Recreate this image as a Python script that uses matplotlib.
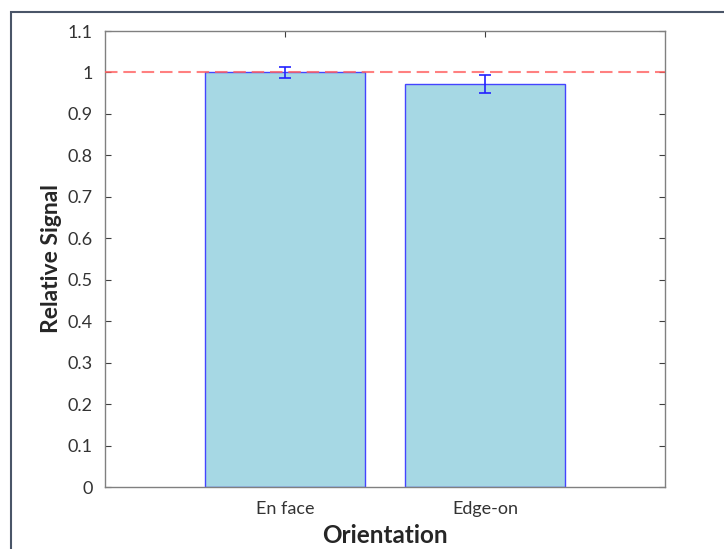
import numpy as np
import matplotlib
matplotlib.use("Agg")
import matplotlib.pyplot as plt
from matplotlib.patches import Rectangle

plt.rcParams['font.family'] = ['Lato', 'DejaVu Sans']

categories = ["En face", "Edge-on"]
values = [1.0, 0.972]
errors = [0.013, 0.021]
yticks = [0, 0.1, 0.2, 0.3, 0.4, 0.5, 0.6, 0.7, 0.8, 0.9, 1, 1.1]
ytick_labels = ["0", "0.1", "0.2", "0.3", "0.4", "0.5", "0.6", "0.7", "0.8", "0.9", "1", "1.1"]
reference = 1.0

fig = plt.figure(figsize=(7.24, 5.49), dpi=100, facecolor='w')
ax = fig.add_axes([105 / 724, 1 - 487 / 549, 560 / 724, 456 / 549])

# frame around the figure (only top and left are visible in the original)
fig.patches.append(Rectangle((10.5 / 724, -0.1), 1.2, 1 - 11.5 / 549 + 0.1,
                             transform=fig.transFigure, fill=False,
                             edgecolor='#4a5568', linewidth=1.5, zorder=0))

x = np.arange(1, len(categories) + 1)
ax.bar(x, values, width=0.8, color='#a6d8e4', edgecolor='#4444ff', linewidth=1.0, zorder=2)
ax.errorbar(x, values, yerr=errors, fmt='none', ecolor='#2222ff', elinewidth=1.2,
            capsize=4, capthick=1.2, zorder=3)
ax.axhline(reference, color='#ff6060', linestyle=(0, (6, 2.8)), linewidth=1.5, alpha=0.8, zorder=4)

ax.set_xlim(0.1, 2.9)
ax.set_ylim(0, 1.1)
ax.set_xticks(x)
ax.set_xticklabels(categories)
ax.set_yticks(yticks)
ax.set_yticklabels(ytick_labels)

for s in ax.spines.values():
    s.set_color('#808080')
    s.set_linewidth(1.0)
ax.tick_params(direction='in', length=4, width=0.8, color='#404040',
               labelsize=13, labelcolor='#333333', top=True, right=True)
ax.tick_params(axis='x', pad=10)
ax.tick_params(axis='y', pad=9)

ax.set_xlabel("Orientation", fontsize=17.5, fontweight='bold', color='#262626', labelpad=5)
ax.set_ylabel("Relative Signal", fontsize=16.5, fontweight='bold', color='#262626', labelpad=4)

fig.savefig("out.png", dpi=100)
